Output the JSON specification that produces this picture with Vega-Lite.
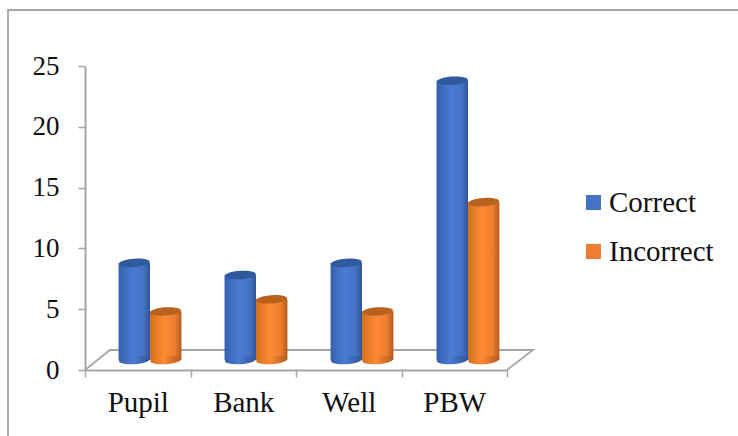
{"$schema":"https://vega.github.io/schema/vega-lite/v6.json","width":422,"height":304,"autosize":"none","padding":{"left":85,"top":66,"right":231,"bottom":66},"background":"white","config":{"view":{"stroke":null},"font":"Liberation Serif"},"datasets":{"vals":[{"category":"Pupil","series":"Correct","value":8},{"category":"Pupil","series":"Incorrect","value":4},{"category":"Bank","series":"Correct","value":7},{"category":"Bank","series":"Incorrect","value":5},{"category":"Well","series":"Correct","value":8},{"category":"Well","series":"Incorrect","value":4},{"category":"PBW","series":"Correct","value":23},{"category":"PBW","series":"Incorrect","value":13}],"lines":[{"part":"frame","i":0,"px":-77,"py":-66},{"part":"frame","i":1,"px":-77,"py":360},{"part":"frame","i":2,"px":653,"py":360},{"part":"floor","i":0,"px":0,"py":0},{"part":"floor","i":1,"px":25,"py":20},{"part":"floor","i":2,"px":448,"py":20},{"part":"floor","i":3,"px":422,"py":0}]},"layer":[{"data":{"name":"lines"},"mark":{"type":"line","color":"#a6a6a6","strokeWidth":1.8,"clip":false},"encoding":{"x":{"field":"px","type":"quantitative","axis":null,"scale":{"domain":[0,422],"range":[0,422],"nice":false,"zero":false}},"y":{"field":"py","type":"quantitative","axis":null,"scale":{"domain":[0,304],"range":[304,0],"nice":false,"zero":false}},"detail":{"field":"part"},"order":{"field":"i"}}},{"data":{"name":"vals"},"mark":{"type":"bar","opacity":0},"encoding":{"x":{"field":"category","type":"nominal","sort":["Pupil","Bank","Well","PBW"],"scale":{"paddingInner":0,"paddingOuter":0},"axis":{"title":null,"labelAngle":0,"labelFont":"Liberation Serif","labelFontSize":29,"labelColor":"#111","labelPadding":11,"tickBand":"extent","tickSize":7,"tickColor":"#a6a6a6","tickWidth":1.5,"domainColor":"#a6a6a6","domainWidth":2,"grid":false}},"y":{"field":"value","type":"quantitative","scale":{"domain":[0,25],"nice":false},"axis":{"title":null,"values":[0,5,10,15,20,25],"labelFont":"Liberation Serif","labelFontSize":27,"labelColor":"#111","labelPadding":19,"tickSize":7,"tickColor":"#a6a6a6","tickWidth":1.5,"domainColor":"#a6a6a6","domainWidth":2,"grid":false}}}},{"data":{"name":"vals"},"encoding":{"x":{"field":"category","type":"nominal","sort":["Pupil","Bank","Well","PBW"],"axis":null,"scale":{"range":[12,436],"paddingInner":0.41,"paddingOuter":0.205}},"xOffset":{"field":"series","type":"nominal","sort":["Correct","Incorrect"]},"y":{"field":"value","type":"quantitative","axis":null,"scale":{"domain":[0,25],"range":[294,-9.5],"nice":false}}},"layer":[{"mark":{"type":"bar","clip":false},"encoding":{"y2":{"datum":0},"color":{"field":"series","type":"nominal","sort":["Correct","Incorrect"],"scale":{"domain":["Correct","Incorrect"],"range":["#4472C4","#ED7D31"]},"legend":{"title":null,"orient":"none","legendX":494,"legendY":122,"labelFont":"Liberation Serif","labelFontSize":29,"labelColor":"#111","labelOffset":1,"symbolType":"square","symbolSize":225,"symbolStrokeWidth":0,"rowPadding":19,"labelLimit":200}}}},{"transform":[{"filter":"datum.series==='Correct'"}],"mark":{"type":"bar","fill":{"gradient":"linear","x1":0,"x2":1,"y1":0,"y2":0,"stops":[{"offset":0,"color":"#3560ad"},{"offset":0.45,"color":"#4a7bd3"},{"offset":0.8,"color":"#4472C4"},{"offset":1,"color":"#2f5594"}]}},"encoding":{"y2":{"datum":0}}},{"transform":[{"filter":"datum.series==='Correct'"}],"mark":{"type":"point","filled":true,"opacity":1,"angle":-4,"size":961,"shape":"M-1,0A1,0.27,0,1,0,1,0A1,0.27,0,1,0,-1,0Z","fill":{"gradient":"linear","x1":0,"x2":1,"y1":0,"y2":0,"stops":[{"offset":0,"color":"#3560ad"},{"offset":0.45,"color":"#4a7bd3"},{"offset":1,"color":"#2f5594"}]}},"encoding":{"y":{"datum":0}}},{"transform":[{"filter":"datum.series==='Correct'"}],"mark":{"type":"point","filled":true,"opacity":1,"angle":-4,"size":961,"shape":"M-1,0A1,0.27,0,1,0,1,0A1,0.27,0,1,0,-1,0Z","fill":"#2f5a9e"}},{"transform":[{"filter":"datum.series==='Incorrect'"}],"mark":{"type":"bar","fill":{"gradient":"linear","x1":0,"x2":1,"y1":0,"y2":0,"stops":[{"offset":0,"color":"#d0701f"},{"offset":0.45,"color":"#ff8a33"},{"offset":0.8,"color":"#ED7D31"},{"offset":1,"color":"#b25c1e"}]}},"encoding":{"y2":{"datum":0}}},{"transform":[{"filter":"datum.series==='Incorrect'"}],"mark":{"type":"point","filled":true,"opacity":1,"angle":-4,"size":961,"shape":"M-1,0A1,0.27,0,1,0,1,0A1,0.27,0,1,0,-1,0Z","fill":{"gradient":"linear","x1":0,"x2":1,"y1":0,"y2":0,"stops":[{"offset":0,"color":"#d0701f"},{"offset":0.45,"color":"#ff8a33"},{"offset":1,"color":"#b25c1e"}]}},"encoding":{"y":{"datum":0}}},{"transform":[{"filter":"datum.series==='Incorrect'"}],"mark":{"type":"point","filled":true,"opacity":1,"angle":-4,"size":961,"shape":"M-1,0A1,0.27,0,1,0,1,0A1,0.27,0,1,0,-1,0Z","fill":"#b9621f"}}]}],"resolve":{"scale":{"x":"independent","y":"independent"}}}
